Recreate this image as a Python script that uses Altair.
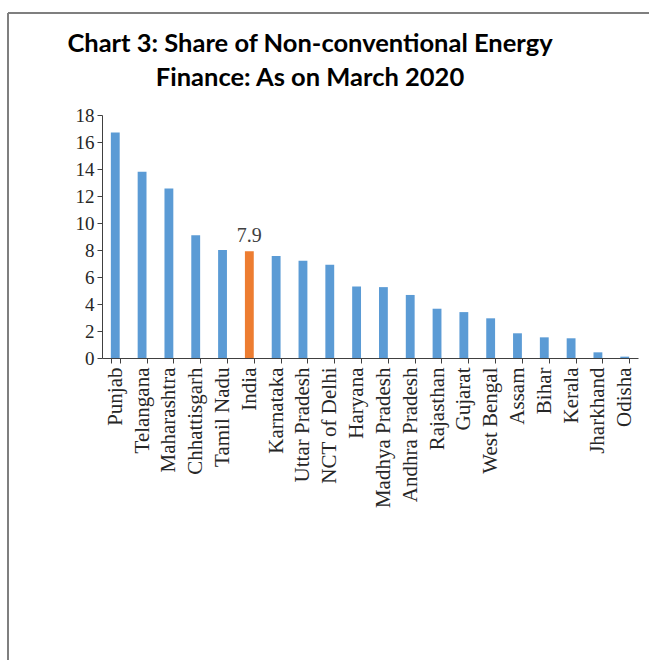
import altair as alt
import pandas as pd

states = ["Punjab", "Telangana", "Maharashtra", "Chhattisgarh", "Tamil Nadu", "India",
          "Karnataka", "Uttar Pradesh", "NCT of Delhi", "Haryana", "Madhya Pradesh",
          "Andhra Pradesh", "Rajasthan", "Gujarat", "West Bengal", "Assam", "Bihar",
          "Kerala", "Jharkhand", "Odisha"]
shares = [16.7, 13.8, 12.55, 9.1, 8.0, 7.9, 7.55, 7.2, 6.9, 5.3, 5.25, 4.67, 3.65,
          3.4, 2.94, 1.83, 1.53, 1.46, 0.42, 0.1]
highlight = "India"

df = pd.DataFrame({"state": states, "share": shares})
df["grp"] = ["India" if s == highlight else "State" for s in states]

x = alt.X("state:N", sort=states, title=None,
          scale=alt.Scale(paddingInner=0.67, paddingOuter=0.33),
          axis=alt.Axis(labelAngle=-90, labelFont="Liberation Serif", labelFontSize=21,
                        labelColor="#262626", tickBand="extent", tickSize=5,
                        tickColor="#404040", domainColor="#404040", labelPadding=4))
y = alt.Y("share:Q", title=None,
          scale=alt.Scale(domain=[0, 18], nice=False),
          axis=alt.Axis(values=list(range(0, 19, 2)), grid=False, labelFont="Liberation Serif",
                        labelFontSize=19, labelColor="#262626", tickSize=5,
                        tickColor="#404040", domainColor="#404040", labelPadding=3))

bars = alt.Chart(df).mark_bar().encode(
    x=x, y=y,
    color=alt.Color("grp:N", scale=alt.Scale(domain=["State", "India"],
                                             range=["#5B9BD5", "#ED7D31"]), legend=None),
)

label = alt.Chart(df).transform_filter(alt.datum.state == highlight).mark_text(
    font="Liberation Serif", fontSize=20, color="#404040", dy=-15
).encode(x=x, y=y, text=alt.Text("share:Q", format=".1f"))

frame_left = alt.Chart(df).mark_rule(color="#7f7f7f", strokeWidth=1.5).encode(
    x=alt.value(-94), y=alt.value(-102), y2=alt.value(560))
frame_top = alt.Chart(df).mark_rule(color="#7f7f7f", strokeWidth=1.5).encode(
    x=alt.value(-94), x2=alt.value(600), y=alt.value(-102))

chart = alt.layer(bars, label, frame_left, frame_top).properties(
    width=536, height=243, background="white",
    title=alt.TitleParams(["Chart 3: Share of Non-conventional Energy", "Finance: As on March 2020"],
                          font="Lato", fontSize=25.5, fontWeight="bold", color="#000000",
                          anchor="middle", dx=-60, offset=-79, lineHeight=34),
    autosize=alt.AutoSizeParams(type="none"),
    padding={"left": 102, "top": 115, "right": 11, "bottom": 302},
).configure_view(strokeWidth=0)

chart.save("out.html", embed_options={"renderer": "svg", "actions": False})
